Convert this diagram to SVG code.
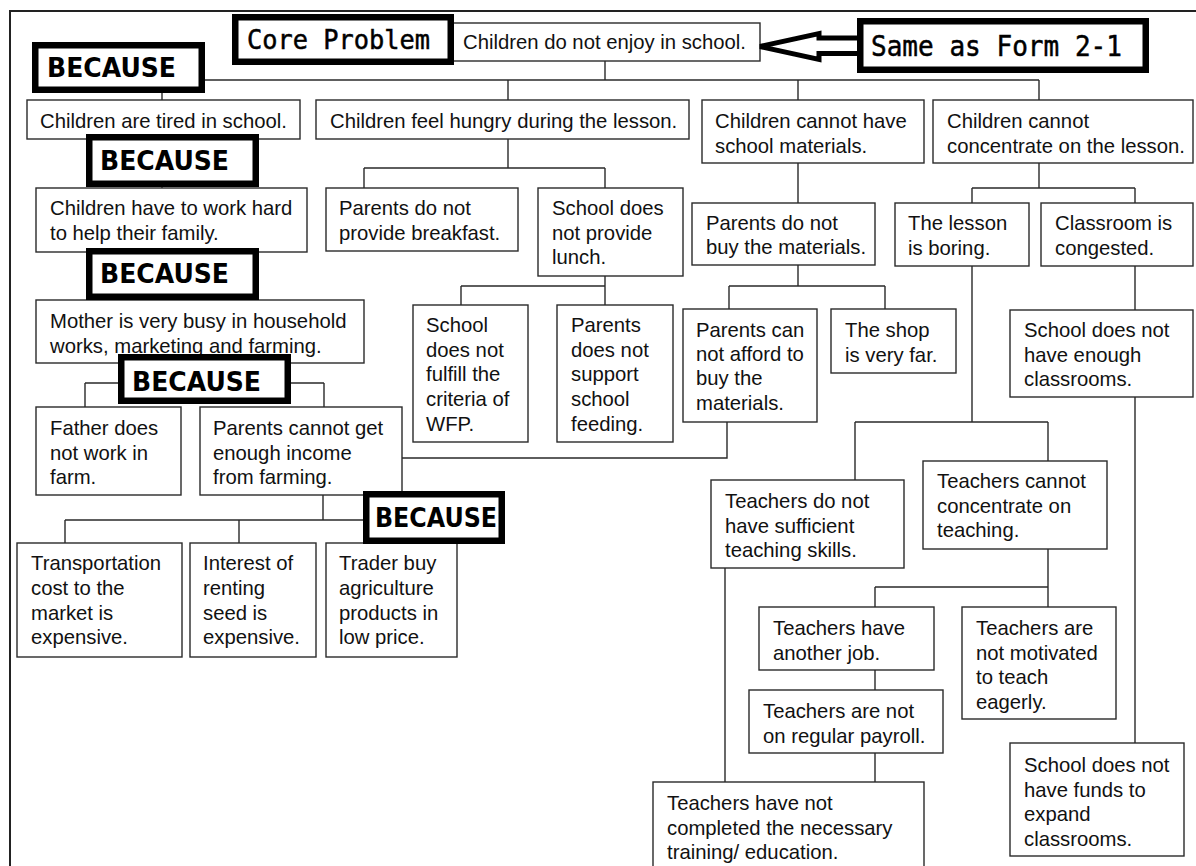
<svg xmlns="http://www.w3.org/2000/svg" width="1196" height="866" viewBox="0 0 1196 866">
  <style>
    .frame { fill: none; stroke: #222; stroke-width: 2; }
    .box rect { fill: #fff; stroke: #2a2a2a; stroke-width: 1.4; }
    .box text { font-family: "Liberation Sans", Arial, sans-serif; font-size: 20.3px; fill: #111; }
    .because rect { fill: #fff; stroke: #000; stroke-width: 6.5; }
    .because text { font-family: "DejaVu Sans", sans-serif; font-weight: bold; font-size: 27px; fill: #000; }
    .tag rect { fill: #fff; stroke: #000; stroke-width: 6.5; }
    .tag text { font-family: "DejaVu Sans Mono", monospace; fill: #000; stroke: #000; stroke-width: 0.5; }
    #connectors path { fill: none; stroke: #2a2a2a; stroke-width: 1.4; }
    .arrow { fill: #fff; stroke: #000; stroke-width: 5; stroke-linejoin: miter; }
  </style>

  <!-- outer frame -->
  <rect class="frame" x="10" y="11" width="1200" height="900"/>

  <!-- tree connectors -->
  <g id="connectors">
    <path d="M605 61 V80 M162 80 H1039 M162 80 V100 M508 80 V100 M798 80 V100 M1039 80 V100"/>
    <path d="M162 139 V188 M162 252 V300"/>
    <path d="M200 363 V383 M85 383 H324 M85 383 V407 M324 383 V407"/>
    <path d="M323 495 V520 M65 520 H391 M65 520 V543 M239 520 V543 M391 520 V543"/>
    <path d="M508 139 V168 M364 168 H605 M364 168 V188 M605 168 V188"/>
    <path d="M605 276 V286 M461 286 H605 M461 286 V305 M605 286 V305"/>
    <path d="M798 163 V203 M798 265 V286 M729 286 H885 M729 286 V309 M885 286 V309"/>
    <path d="M402 458 H727 V422"/>
    <path d="M1039 163 V188 M972 188 H1135 M972 188 V203 M1135 188 V203"/>
    <path d="M972 266 V422 M855 422 H1048 M855 422 V480 M1048 422 V461"/>
    <path d="M1135 266 V310 M1135 397 V743"/>
    <path d="M1048 549 V587 M875 587 H1048 M875 587 V607 M1048 587 V607"/>
    <path d="M875 670 V690 M875 753 V782 M725 568 V782"/>
  </g>

  <!-- core problem -->
  <g id="root" class="box">
    <rect x="453" y="23" width="307" height="38"/>
    <text x="463" y="49">Children do not enjoy in school.</text>
  </g>
  <g id="tag-core" class="tag">
    <rect x="235.25" y="17.25" width="215.5" height="44.5"/>
    <text x="247" y="49" font-size="27" textLength="183" lengthAdjust="spacingAndGlyphs">Core Problem</text>
  </g>
  <g id="tag-form">
    <polygon class="arrow" points="760,46.5 819,33.5 819,38 860,38 860,53.5 819,53.5 819,59.5"/>
    <g class="tag">
      <rect x="860.25" y="21.25" width="285.5" height="48.5"/>
      <text x="871" y="56" font-size="29" textLength="251" lengthAdjust="spacingAndGlyphs">Same as Form 2-1</text>
    </g>
  </g>

  <!-- first level causes -->
  <g id="tired" class="box">
    <rect x="27" y="100" width="273" height="39"/>
    <text x="40" y="128">Children are tired in school.</text>
  </g>
  <g id="hungry" class="box">
    <rect x="316" y="100" width="373" height="39"/>
    <text x="330" y="128">Children feel hungry during the lesson.</text>
  </g>
  <g id="materials" class="box">
    <rect x="702" y="100" width="222" height="63"/>
    <text><tspan x="715" y="128">Children cannot have</tspan><tspan x="715" y="153">school materials.</tspan></text>
  </g>
  <g id="concentrate" class="box">
    <rect x="933" y="100" width="260" height="63"/>
    <text><tspan x="947" y="128">Children cannot</tspan><tspan x="947" y="153">concentrate on the lesson.</tspan></text>
  </g>

  <!-- tired branch -->
  <g id="work-hard" class="box">
    <rect x="36" y="188" width="271" height="64"/>
    <text><tspan x="50" y="215">Children have to work hard</tspan><tspan x="50" y="240">to help their family.</tspan></text>
  </g>
  <g id="mother" class="box">
    <rect x="36" y="300" width="328" height="63"/>
    <text><tspan x="50" y="328">Mother is very busy in household</tspan><tspan x="50" y="353">works, marketing and farming.</tspan></text>
  </g>
  <g id="father" class="box">
    <rect x="36" y="407" width="145" height="88"/>
    <text><tspan x="50" y="435">Father does</tspan><tspan x="50" y="460">not work in</tspan><tspan x="50" y="484">farm.</tspan></text>
  </g>
  <g id="income" class="box">
    <rect x="200" y="407" width="202" height="88"/>
    <text><tspan x="213" y="435">Parents cannot get</tspan><tspan x="213" y="460">enough income</tspan><tspan x="213" y="484">from farming.</tspan></text>
  </g>
  <g id="transport" class="box">
    <rect x="17" y="543" width="165" height="114"/>
    <text><tspan x="31" y="570">Transportation</tspan><tspan x="31" y="595">cost to the</tspan><tspan x="31" y="620">market is</tspan><tspan x="31" y="644">expensive.</tspan></text>
  </g>
  <g id="interest" class="box">
    <rect x="190" y="543" width="126" height="114"/>
    <text><tspan x="203" y="570">Interest of</tspan><tspan x="203" y="595">renting</tspan><tspan x="203" y="620">seed is</tspan><tspan x="203" y="644">expensive.</tspan></text>
  </g>
  <g id="trader" class="box">
    <rect x="326" y="543" width="131" height="114"/>
    <text><tspan x="339" y="570">Trader buy</tspan><tspan x="339" y="595">agriculture</tspan><tspan x="339" y="620">products in</tspan><tspan x="339" y="644">low price.</tspan></text>
  </g>

  <!-- hungry branch -->
  <g id="breakfast" class="box">
    <rect x="326" y="188" width="192" height="63"/>
    <text><tspan x="339" y="215">Parents do not</tspan><tspan x="339" y="240">provide breakfast.</tspan></text>
  </g>
  <g id="lunch" class="box">
    <rect x="538" y="188" width="145" height="88"/>
    <text><tspan x="552" y="215">School does</tspan><tspan x="552" y="240">not provide</tspan><tspan x="552" y="264">lunch.</tspan></text>
  </g>
  <g id="wfp" class="box">
    <rect x="413" y="305" width="115" height="137"/>
    <text><tspan x="426" y="332">School</tspan><tspan x="426" y="357">does not</tspan><tspan x="426" y="381">fulfill the</tspan><tspan x="426" y="406">criteria of</tspan><tspan x="426" y="431">WFP.</tspan></text>
  </g>
  <g id="feeding" class="box">
    <rect x="557" y="305" width="116" height="137"/>
    <text><tspan x="571" y="332">Parents</tspan><tspan x="571" y="357">does not</tspan><tspan x="571" y="381">support</tspan><tspan x="571" y="406">school</tspan><tspan x="571" y="431">feeding.</tspan></text>
  </g>

  <!-- materials branch -->
  <g id="not-buy" class="box">
    <rect x="692" y="203" width="183" height="62"/>
    <text><tspan x="706" y="230">Parents do not</tspan><tspan x="706" y="254">buy the materials.</tspan></text>
  </g>
  <g id="afford" class="box">
    <rect x="683" y="309" width="134" height="113"/>
    <text><tspan x="696" y="337">Parents can</tspan><tspan x="696" y="361">not afford to</tspan><tspan x="696" y="385">buy the</tspan><tspan x="696" y="410">materials.</tspan></text>
  </g>
  <g id="shop" class="box">
    <rect x="831" y="309" width="125" height="64"/>
    <text><tspan x="845" y="337">The shop</tspan><tspan x="845" y="362">is very far.</tspan></text>
  </g>

  <!-- concentrate branch -->
  <g id="boring" class="box">
    <rect x="895" y="203" width="134" height="63"/>
    <text><tspan x="908" y="230">The lesson</tspan><tspan x="908" y="255">is boring.</tspan></text>
  </g>
  <g id="congested" class="box">
    <rect x="1041" y="203" width="152" height="63"/>
    <text><tspan x="1055" y="230">Classroom is</tspan><tspan x="1055" y="255">congested.</tspan></text>
  </g>
  <g id="few-rooms" class="box">
    <rect x="1010" y="310" width="183" height="87"/>
    <text><tspan x="1024" y="337">School does not</tspan><tspan x="1024" y="362">have enough</tspan><tspan x="1024" y="386">classrooms.</tspan></text>
  </g>
  <g id="skills" class="box">
    <rect x="711" y="480" width="193" height="88"/>
    <text><tspan x="725" y="508">Teachers do not</tspan><tspan x="725" y="533">have sufficient</tspan><tspan x="725" y="557">teaching skills.</tspan></text>
  </g>
  <g id="teach-focus" class="box">
    <rect x="923" y="461" width="184" height="88"/>
    <text><tspan x="937" y="488">Teachers cannot</tspan><tspan x="937" y="513">concentrate on</tspan><tspan x="937" y="537">teaching.</tspan></text>
  </g>
  <g id="another-job" class="box">
    <rect x="759" y="607" width="175" height="63"/>
    <text><tspan x="773" y="635">Teachers have</tspan><tspan x="773" y="660">another job.</tspan></text>
  </g>
  <g id="motivated" class="box">
    <rect x="962" y="607" width="154" height="112"/>
    <text><tspan x="976" y="635">Teachers are</tspan><tspan x="976" y="660">not motivated</tspan><tspan x="976" y="684">to teach</tspan><tspan x="976" y="709">eagerly.</tspan></text>
  </g>
  <g id="payroll" class="box">
    <rect x="749" y="690" width="194" height="63"/>
    <text><tspan x="763" y="718">Teachers are not</tspan><tspan x="763" y="743">on regular payroll.</tspan></text>
  </g>
  <g id="training" class="box">
    <rect x="653" y="782" width="271" height="120"/>
    <text><tspan x="667" y="810">Teachers have not</tspan><tspan x="667" y="835">completed the necessary</tspan><tspan x="667" y="859">training/ education.</tspan></text>
  </g>
  <g id="funds" class="box">
    <rect x="1010" y="743" width="174" height="113"/>
    <text><tspan x="1024" y="772">School does not</tspan><tspan x="1024" y="797">have funds to</tspan><tspan x="1024" y="821">expand</tspan><tspan x="1024" y="846">classrooms.</tspan></text>
  </g>

  <!-- BECAUSE markers -->
  <g id="because-1" class="because">
    <rect x="35.25" y="45.25" width="166.5" height="44.5"/>
    <text x="47" y="77" textLength="129" lengthAdjust="spacingAndGlyphs">BECAUSE</text>
  </g>
  <g id="because-2" class="because">
    <rect x="89.25" y="137.25" width="166.5" height="46.5"/>
    <text x="100" y="170" textLength="129" lengthAdjust="spacingAndGlyphs">BECAUSE</text>
  </g>
  <g id="because-3" class="because">
    <rect x="89.25" y="251.25" width="166.5" height="45.5"/>
    <text x="100" y="283" textLength="129" lengthAdjust="spacingAndGlyphs">BECAUSE</text>
  </g>
  <g id="because-4" class="because">
    <rect x="121.25" y="357.25" width="166.5" height="43.5"/>
    <text x="132" y="391" textLength="129" lengthAdjust="spacingAndGlyphs">BECAUSE</text>
  </g>
  <g id="because-5" class="because">
    <rect x="366.25" y="494.25" width="135.5" height="46.5"/>
    <text x="375" y="527" textLength="122" lengthAdjust="spacingAndGlyphs">BECAUSE</text>
  </g>
</svg>
